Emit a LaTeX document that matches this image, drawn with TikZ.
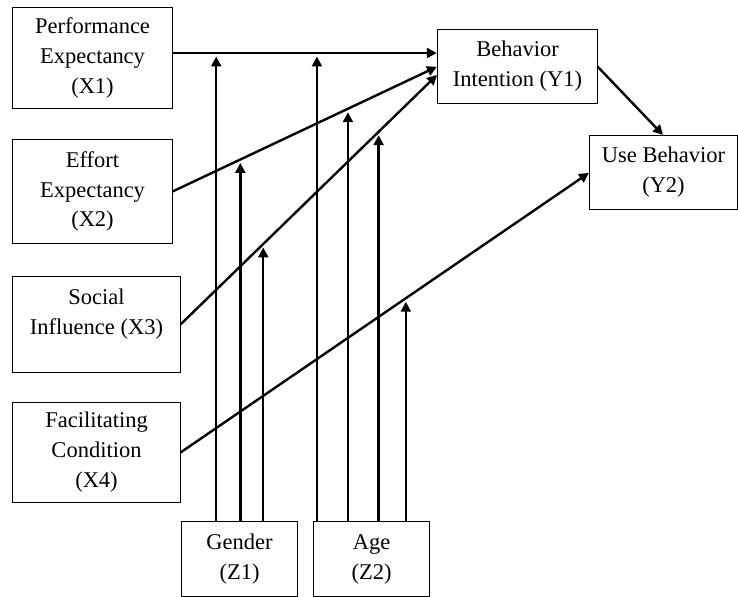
\documentclass[tikz,border=0pt]{standalone}
\usepackage{fontspec}
\setmainfont{Liberation Serif}
\usetikzlibrary{arrows.meta, positioning}
\tikzset{
		var box/.style={
			rectangle,
			draw=black,
			line width=0.7pt,
			align=center,
			inner sep=0pt,
			font=\fontsize{16}{21.3}\selectfont
		},
		path arrow/.style={
			line width=1.7pt,
			-{Triangle[length=7pt,width=7pt]},
			shorten >=0.5pt
		},
		mod arrow/.style={
			path arrow,
			shorten >=2.5pt
		}
	}
\begin{document}
\begin{tikzpicture}[x=0.025cm, y=-0.025cm]
			\useasboundingbox (0,0) rectangle (738,597);
			% independent variables
			\node (x1) [var box, minimum width=3.975cm, minimum height=2.5cm] at (92.5,58) {Performance\\Expectancy\\(X1)};
			\node (x2) [var box, minimum width=3.975cm, minimum height=2.575cm] at (92.5,191.5) {Effort\\Expectancy\\(X2)};
			\node (x3) [var box, minimum width=4.175cm, minimum height=2.375cm] at (96.5,324.5) {Social\\Influence (X3)\rule[-18pt]{0pt}{0pt}};
			\node (x4) [var box, minimum width=4.175cm, minimum height=2.475cm] at (96.5,452.5) {Facilitating\\Condition\\(X4)};
			% dependent variables
			\node (y1) [var box, minimum width=3.975cm, minimum height=1.825cm] at (517.5,66.5) {Behavior\\Intention (Y1)};
			\node (y2) [var box, minimum width=3.675cm, minimum height=1.825cm] at (663.5,172.5) {Use Behavior\\(Y2)};
			% moderators
			\node (gender) [var box, minimum width=2.875cm, minimum height=1.85cm] at (239.5,559) {Gender\\(Z1)};
			\node (age) [var box, minimum width=2.875cm, minimum height=1.85cm] at (371.5,559) {Age\\(Z2)};
			% main paths
			\coordinate (e1) at ([yshift=1.25mm]x1.east);
			\draw [path arrow] (e1) -- (e1 -| y1.west)
				coordinate [pos=0.165] (g1) coordinate [pos=0.545] (a1);
			\draw [path arrow] (x2.east) -- (y1.west)
				coordinate [pos=0.256] (g2) coordinate [pos=0.662] (a2);
			\draw [path arrow] (x3.east) -- ([yshift=-2mm]y1.west)
				coordinate [pos=0.322] (g3) coordinate [pos=0.771] (a3);
			\draw [path arrow] (x4.east) -- (y2.west)
				coordinate [pos=0.551] (a4);
			\draw [path arrow] (y1.east) -- (y2.north);
			% moderating effects
			\foreach \m in {g1, g2, g3}
				\draw [mod arrow] (\m |- gender.north) -- (\m);
			\foreach \m in {a1, a2, a3, a4}
				\draw [mod arrow] (\m |- age.north) -- (\m);
\end{tikzpicture}
\end{document}
